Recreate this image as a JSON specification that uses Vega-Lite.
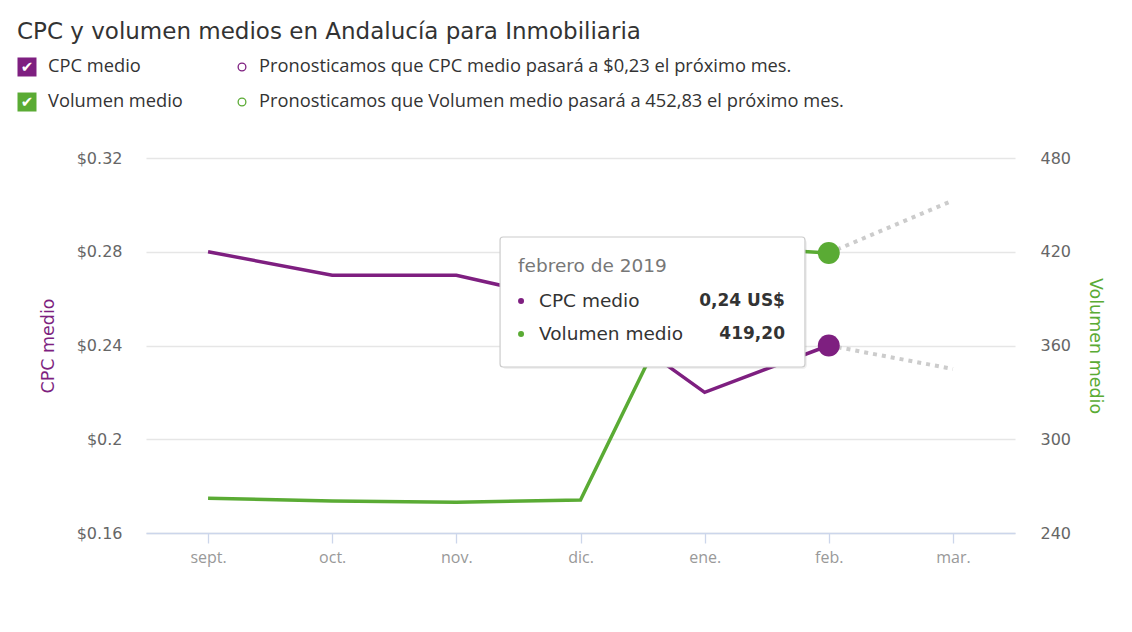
{
  "$schema": "https://vega.github.io/schema/vega-lite/v6.json",
  "width": 869,
  "height": 375,
  "autosize": "none",
  "padding": {"left": 146, "top": 158, "right": 117, "bottom": 99},
  "background": "white",
  "title": {
    "text": "CPC y volumen medios en Andalucía para Inmobiliaria",
    "anchor": "start",
    "frame": "group",
    "dx": -129,
    "dy": 24,
    "fontSize": 23,
    "fontWeight": "normal",
    "color": "#333333",
    "font": "DejaVu Sans",
    "baseline": "alphabetic",
    "offset": 19
  },
  "config": {
    "font": "Open Sans",
    "view": {"stroke": null}
  },
  "datasets": {
    "main": [
      {"i": 0, "mes": "sept.", "cpc": 0.28, "vol": 262.2},
      {"i": 1, "mes": "oct.", "cpc": 0.27, "vol": 260.5},
      {"i": 2, "mes": "nov.", "cpc": 0.27, "vol": 259.7},
      {"i": 3, "mes": "dic.", "cpc": 0.258, "vol": 261.1},
      {"i": 4, "mes": "ene.", "cpc": 0.22, "vol": 424.0},
      {"i": 5, "mes": "feb.", "cpc": 0.24, "vol": 419.2}
    ],
    "forecast": [
      {"i": 5, "mes": "feb.", "cpc": 0.24, "vol": 419.2},
      {"i": 6, "mes": "mar.", "cpc": 0.23, "vol": 452.83}
    ]
  },
  "layer": [
    {
      "mark": {"type": "rule", "color": "#edf1f7", "strokeWidth": 1.5},
      "encoding": {
        "x": {
          "datum": 5, "type": "quantitative",
          "scale": {"domain": [-0.5, 6.5], "nice": false, "zero": false},
          "axis": {
            "values": [0, 1, 2, 3, 4, 5, 6],
            "labelExpr": "['sept.','oct.','nov.','dic.','ene.','feb.','mar.'][datum.value]",
            "domainColor": "#ccd6eb",
            "domainWidth": 1.5,
            "tickColor": "#ccd6eb",
            "tickSize": 10,
            "tickWidth": 1.3,
            "labelColor": "#999999",
            "labelFontSize": 16,
            "labelPadding": 6,
            "labelFlush": false,
            "labelOverlap": false,
            "grid": false,
            "title": null
          }
        }
      }
    },
    {
      "layer": [
        {
          "data": {"name": "main"},
          "mark": {"type": "line", "color": "#7e1f80", "strokeWidth": 3.5},
          "encoding": {
            "x": {"field": "i", "type": "quantitative", "scale": {"domain": [-0.5, 6.5], "nice": false, "zero": false}},
            "y": {
              "field": "cpc", "type": "quantitative",
              "scale": {"domain": [0.16, 0.32], "nice": false, "zero": false},
              "axis": {
                "orient": "left",
                "values": [0.16, 0.2, 0.24, 0.28, 0.32],
                "format": "$.2~f",
                "domain": false,
                "ticks": false,
                "grid": true,
                "gridColor": "#e6e6e6",
                "gridWidth": 1.3,
                "labelColor": "#666666",
                "labelFont": "DejaVu Sans",
                "labelFontSize": 16,
                "labelPadding": 24,
                "title": "CPC medio",
                "titleFont": "DejaVu Sans",
                "titleColor": "#7e1f80",
                "titleFontSize": 17.5,
                "titleFontWeight": "normal",
                "titlePadding": 19
              }
            }
          }
        },
        {
          "data": {"name": "forecast"},
          "mark": {"type": "line", "color": "#cccccc", "strokeWidth": 4, "strokeDash": [4, 5]},
          "encoding": {
            "x": {"field": "i", "type": "quantitative", "scale": {"domain": [-0.5, 6.5], "nice": false, "zero": false}},
            "y": {"field": "cpc", "type": "quantitative", "scale": {"domain": [0.16, 0.32], "nice": false, "zero": false}}
          }
        },
        {
          "data": {"name": "main"},
          "transform": [{"filter": "datum.i == 5"}],
          "mark": {"type": "circle", "color": "#7e1f80", "size": 480, "opacity": 1},
          "encoding": {
            "x": {"field": "i", "type": "quantitative", "scale": {"domain": [-0.5, 6.5], "nice": false, "zero": false}},
            "y": {"field": "cpc", "type": "quantitative", "scale": {"domain": [0.16, 0.32], "nice": false, "zero": false}}
          }
        }
      ]
    },
    {
      "layer": [
        {
          "data": {"name": "main"},
          "mark": {"type": "line", "color": "#5aab34", "strokeWidth": 3.5},
          "encoding": {
            "x": {"field": "i", "type": "quantitative", "scale": {"domain": [-0.5, 6.5], "nice": false, "zero": false}},
            "y": {
              "field": "vol", "type": "quantitative",
              "scale": {"domain": [240, 480], "nice": false, "zero": false},
              "axis": {
                "orient": "right",
                "values": [240, 300, 360, 420, 480],
                "domain": false,
                "ticks": false,
                "grid": false,
                "labelColor": "#666666",
                "labelFont": "DejaVu Sans",
                "labelFontSize": 16,
                "labelPadding": 25,
                "title": "Volumen medio",
                "titleFont": "DejaVu Sans",
                "titleColor": "#5aab34",
                "titleFontSize": 17.5,
                "titleFontWeight": "normal",
                "titlePadding": 15
              }
            }
          }
        },
        {
          "data": {"name": "forecast"},
          "mark": {"type": "line", "color": "#cccccc", "strokeWidth": 4, "strokeDash": [4, 5]},
          "encoding": {
            "x": {"field": "i", "type": "quantitative", "scale": {"domain": [-0.5, 6.5], "nice": false, "zero": false}},
            "y": {"field": "vol", "type": "quantitative", "scale": {"domain": [240, 480], "nice": false, "zero": false}}
          }
        },
        {
          "data": {"name": "main"},
          "transform": [{"filter": "datum.i == 5"}],
          "mark": {"type": "circle", "color": "#5aab34", "size": 480, "opacity": 1},
          "encoding": {
            "x": {"field": "i", "type": "quantitative", "scale": {"domain": [-0.5, 6.5], "nice": false, "zero": false}},
            "y": {"field": "vol", "type": "quantitative", "scale": {"domain": [240, 480], "nice": false, "zero": false}}
          }
        }
      ]
    },
    {
      "data": {"values": [{}]},
      "layer": [
        {
          "mark": {"type": "rect", "fill": "#000000", "opacity": 0.06, "cornerRadius": 4, "xOffset": 2, "yOffset": 2, "x2Offset": 2, "y2Offset": 2},
          "encoding": {
            "x": {"datum": 2.352, "type": "quantitative", "scale": {"domain": [-0.5, 6.5], "nice": false, "zero": false}},
            "x2": {"datum": 4.808},
            "y": {"datum": 0.28629, "type": "quantitative", "scale": {"domain": [0.16, 0.32], "nice": false, "zero": false}, "axis": null},
            "y2": {"datum": 0.23083}
          }
        },
        {
          "mark": {"type": "rect", "fill": "#ffffff", "stroke": "#cccccc", "strokeWidth": 1.2, "cornerRadius": 3},
          "encoding": {
            "x": {"datum": 2.352, "type": "quantitative", "scale": {"domain": [-0.5, 6.5], "nice": false, "zero": false}},
            "x2": {"datum": 4.808},
            "y": {"datum": 0.28629, "type": "quantitative", "scale": {"domain": [0.16, 0.32], "nice": false, "zero": false}, "axis": null},
            "y2": {"datum": 0.23083}
          }
        },
        {
          "mark": {"type": "text", "align": "left", "baseline": "middle", "fontSize": 18.5, "font": "DejaVu Sans", "color": "#777777"},
          "encoding": {
            "x": {"datum": 2.497, "type": "quantitative", "scale": {"domain": [-0.5, 6.5], "nice": false, "zero": false}},
            "y": {"datum": 0.27392, "type": "quantitative", "scale": {"domain": [0.16, 0.32], "nice": false, "zero": false}, "axis": null},
            "text": {"value": "febrero de 2019"}
          }
        },
        {
          "mark": {"type": "circle", "color": "#7e1f80", "size": 36, "opacity": 1},
          "encoding": {
            "x": {"datum": 2.521, "type": "quantitative", "scale": {"domain": [-0.5, 6.5], "nice": false, "zero": false}},
            "y": {"datum": 0.25899, "type": "quantitative", "scale": {"domain": [0.16, 0.32], "nice": false, "zero": false}, "axis": null}
          }
        },
        {
          "mark": {"type": "circle", "color": "#5aab34", "size": 36, "opacity": 1},
          "encoding": {
            "x": {"datum": 2.521, "type": "quantitative", "scale": {"domain": [-0.5, 6.5], "nice": false, "zero": false}},
            "y": {"datum": 0.24491, "type": "quantitative", "scale": {"domain": [0.16, 0.32], "nice": false, "zero": false}, "axis": null}
          }
        },
        {
          "mark": {"type": "text", "align": "left", "baseline": "middle", "fontSize": 18.5, "font": "DejaVu Sans", "color": "#333333"},
          "encoding": {
            "x": {"datum": 2.666, "type": "quantitative", "scale": {"domain": [-0.5, 6.5], "nice": false, "zero": false}},
            "y": {"datum": 0.25899, "type": "quantitative", "scale": {"domain": [0.16, 0.32], "nice": false, "zero": false}, "axis": null},
            "text": {"value": "CPC medio"}
          }
        },
        {
          "mark": {"type": "text", "align": "left", "baseline": "middle", "fontSize": 18.5, "font": "DejaVu Sans", "color": "#333333"},
          "encoding": {
            "x": {"datum": 2.666, "type": "quantitative", "scale": {"domain": [-0.5, 6.5], "nice": false, "zero": false}},
            "y": {"datum": 0.24491, "type": "quantitative", "scale": {"domain": [0.16, 0.32], "nice": false, "zero": false}, "axis": null},
            "text": {"value": "Volumen medio"}
          }
        },
        {
          "mark": {"type": "text", "align": "right", "baseline": "middle", "fontSize": 17, "font": "DejaVu Sans", "fontWeight": "bold", "color": "#333333"},
          "encoding": {
            "x": {"datum": 4.647, "type": "quantitative", "scale": {"domain": [-0.5, 6.5], "nice": false, "zero": false}},
            "y": {"datum": 0.25899, "type": "quantitative", "scale": {"domain": [0.16, 0.32], "nice": false, "zero": false}, "axis": null},
            "text": {"value": "0,24 US$"}
          }
        },
        {
          "mark": {"type": "text", "align": "right", "baseline": "middle", "fontSize": 17, "font": "DejaVu Sans", "fontWeight": "bold", "color": "#333333"},
          "encoding": {
            "x": {"datum": 4.647, "type": "quantitative", "scale": {"domain": [-0.5, 6.5], "nice": false, "zero": false}},
            "y": {"datum": 0.24491, "type": "quantitative", "scale": {"domain": [0.16, 0.32], "nice": false, "zero": false}, "axis": null},
            "text": {"value": "419,20"}
          }
        },
        {
          "mark": {"type": "square", "color": "#7e1f80", "size": 361, "opacity": 1, "cornerRadius": 3},
          "encoding": {
            "x": {"datum": -1.4586, "type": "quantitative", "scale": {"domain": [-0.5, 6.5], "nice": false, "zero": false}},
            "y": {"datum": 0.35883, "type": "quantitative", "scale": {"domain": [0.16, 0.32], "nice": false, "zero": false}, "axis": null}
          }
        },
        {
          "mark": {"type": "square", "color": "#5aab34", "size": 361, "opacity": 1, "cornerRadius": 3},
          "encoding": {
            "x": {"datum": -1.4586, "type": "quantitative", "scale": {"domain": [-0.5, 6.5], "nice": false, "zero": false}},
            "y": {"datum": 0.34389, "type": "quantitative", "scale": {"domain": [0.16, 0.32], "nice": false, "zero": false}, "axis": null}
          }
        },
        {
          "mark": {"type": "text", "align": "center", "baseline": "middle", "fontSize": 15, "color": "#ffffff", "font": "DejaVu Sans", "fontWeight": "bold"},
          "encoding": {
            "x": {"datum": -1.4586, "type": "quantitative", "scale": {"domain": [-0.5, 6.5], "nice": false, "zero": false}},
            "y": {"datum": 0.35883, "type": "quantitative", "scale": {"domain": [0.16, 0.32], "nice": false, "zero": false}, "axis": null},
            "text": {"value": "✔"}
          }
        },
        {
          "mark": {"type": "text", "align": "center", "baseline": "middle", "fontSize": 15, "color": "#ffffff", "font": "DejaVu Sans", "fontWeight": "bold"},
          "encoding": {
            "x": {"datum": -1.4586, "type": "quantitative", "scale": {"domain": [-0.5, 6.5], "nice": false, "zero": false}},
            "y": {"datum": 0.34389, "type": "quantitative", "scale": {"domain": [0.16, 0.32], "nice": false, "zero": false}, "axis": null},
            "text": {"value": "✔"}
          }
        },
        {
          "mark": {"type": "text", "align": "left", "baseline": "middle", "fontSize": 18.3, "color": "#333333"},
          "encoding": {
            "x": {"datum": -1.2894, "type": "quantitative", "scale": {"domain": [-0.5, 6.5], "nice": false, "zero": false}},
            "y": {"datum": 0.35883, "type": "quantitative", "scale": {"domain": [0.16, 0.32], "nice": false, "zero": false}, "axis": null},
            "text": {"value": "CPC medio"}
          }
        },
        {
          "mark": {"type": "text", "align": "left", "baseline": "middle", "fontSize": 18.3, "color": "#333333"},
          "encoding": {
            "x": {"datum": -1.2894, "type": "quantitative", "scale": {"domain": [-0.5, 6.5], "nice": false, "zero": false}},
            "y": {"datum": 0.34389, "type": "quantitative", "scale": {"domain": [0.16, 0.32], "nice": false, "zero": false}, "axis": null},
            "text": {"value": "Volumen medio"}
          }
        },
        {
          "mark": {"type": "circle", "stroke": "#7e1f80", "fill": "#ffffff", "strokeWidth": 1.3, "size": 60, "opacity": 1},
          "encoding": {
            "x": {"datum": 0.2733, "type": "quantitative", "scale": {"domain": [-0.5, 6.5], "nice": false, "zero": false}},
            "y": {"datum": 0.35883, "type": "quantitative", "scale": {"domain": [0.16, 0.32], "nice": false, "zero": false}, "axis": null}
          }
        },
        {
          "mark": {"type": "circle", "stroke": "#5aab34", "fill": "#ffffff", "strokeWidth": 1.3, "size": 60, "opacity": 1},
          "encoding": {
            "x": {"datum": 0.2733, "type": "quantitative", "scale": {"domain": [-0.5, 6.5], "nice": false, "zero": false}},
            "y": {"datum": 0.34389, "type": "quantitative", "scale": {"domain": [0.16, 0.32], "nice": false, "zero": false}, "axis": null}
          }
        },
        {
          "mark": {"type": "text", "align": "left", "baseline": "middle", "fontSize": 18.3, "color": "#333333"},
          "encoding": {
            "x": {"datum": 0.4102, "type": "quantitative", "scale": {"domain": [-0.5, 6.5], "nice": false, "zero": false}},
            "y": {"datum": 0.35883, "type": "quantitative", "scale": {"domain": [0.16, 0.32], "nice": false, "zero": false}, "axis": null},
            "text": {"value": "Pronosticamos que CPC medio pasará a $0,23 el próximo mes."}
          }
        },
        {
          "mark": {"type": "text", "align": "left", "baseline": "middle", "fontSize": 18.3, "color": "#333333"},
          "encoding": {
            "x": {"datum": 0.4102, "type": "quantitative", "scale": {"domain": [-0.5, 6.5], "nice": false, "zero": false}},
            "y": {"datum": 0.34389, "type": "quantitative", "scale": {"domain": [0.16, 0.32], "nice": false, "zero": false}, "axis": null},
            "text": {"value": "Pronosticamos que Volumen medio pasará a 452,83 el próximo mes."}
          }
        }
      ]
    }
  ],
  "resolve": {"scale": {"y": "independent"}}
}
